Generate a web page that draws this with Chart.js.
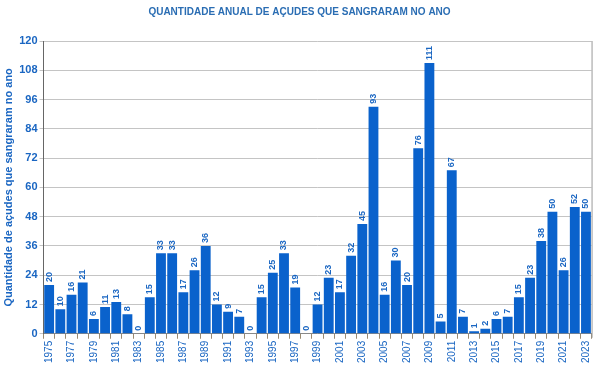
<!DOCTYPE html>
<html>
<head>
<meta charset="utf-8">
<script src="https://cdn.jsdelivr.net/npm/chart.js@4"></script>
<style>
  html, body { margin: 0; padding: 0; background: #fff; }
  canvas { display: block; }
</style>
</head>
<body>
<canvas id="chart" width="600" height="367"></canvas>
<script>
// anos da série
const years = [
  '1975', '1976', '1977', '1978', '1979', '1980', '1981', '1982', '1983', '1984',
  '1985', '1986', '1987', '1988', '1989', '1990', '1991', '1992', '1993', '1994',
  '1995', '1996', '1997', '1998', '1999', '2000', '2001', '2002', '2003', '2004',
  '2005', '2006', '2007', '2008', '2009', '2010', '2011', '2012', '2013', '2014',
  '2015', '2016', '2017', '2018', '2019', '2020', '2021', '2022', '2023',
];

// quantidade de açudes que sangraram
const counts = [
  20, 10, 16, 21, 6, 11, 13, 8, 0, 15,
  33, 33, 17, 26, 36, 12, 9, 7, 0, 15,
  25, 33, 19, 0, 12, 23, 17, 32, 45, 93,
  16, 30, 20, 76, 111, 5, 67, 7, 1, 2,
  6, 7, 15, 23, 38, 50, 26, 52, 50,
];

const barColor = '#0a62cc';
const textColor = '#1a66c2';

// rótulos verticais acima das barras
const valueLabels = {
  id: 'valueLabels',
  afterDatasetsDraw(chart) {
    const ctx = chart.ctx;
    const meta = chart.getDatasetMeta(0);
    ctx.save();
    ctx.fillStyle = textColor;
    ctx.font = 'bold 9px "Liberation Sans", Arial, sans-serif';
    ctx.textAlign = 'left';
    ctx.textBaseline = 'middle';
    meta.data.forEach((bar, i) => {
      ctx.save();
      ctx.translate(bar.x, bar.y - 3);
      ctx.rotate(-Math.PI / 2);
      ctx.fillText(String(counts[i]), 0, 0);
      ctx.restore();
    });
    ctx.restore();
  },
};

// linha da borda direita
const rightBorder = {
  id: 'rightBorder',
  afterDraw(chart) {
    const { ctx, chartArea } = chart;
    ctx.save();
    ctx.strokeStyle = '#9a9a9a';
    ctx.lineWidth = 1;
    ctx.beginPath();
    ctx.moveTo(chartArea.right + 0.5, chartArea.top);
    ctx.lineTo(chartArea.right + 0.5, chartArea.bottom + 4);
    ctx.stroke();
    ctx.restore();
  },
};

new Chart(document.getElementById('chart'), {
  type: 'bar',
  data: {
    labels: years,
    datasets: [
      {
        data: counts,
        backgroundColor: barColor,
        borderWidth: 0,
        barPercentage: 0.88,
        categoryPercentage: 1.0,
      },
    ],
  },
  options: {
    responsive: false,
    animation: false,
    layout: { padding: { top: 0, right: 3, bottom: 2, left: 2 } },
    plugins: {
      legend: { display: false },
      tooltip: { enabled: false },
      title: {
        display: true,
        text: 'QUANTIDADE ANUAL DE AÇUDES QUE SANGRARAM NO ANO',
        color: '#2a6db3',
        font: { family: '"Liberation Sans", Arial, sans-serif', size: 10, weight: 'bold' },
        padding: { top: 6, bottom: 23 },
      },
    },
    scales: {
      x: {
        grid: {
          offset: true,
          drawOnChartArea: false,
          color: '#9a8a70',
          tickLength: 5,
        },
        border: { color: '#888' },
        ticks: {
          autoSkip: false,
          maxRotation: 90,
          minRotation: 90,
          padding: 2,
          color: textColor,
          font: { family: '"Liberation Sans", Arial, sans-serif', size: 10 },
          callback: function (value, index) {
            return index % 2 === 0 ? years[index] : '';
          },
        },
      },
      y: {
        min: 0,
        max: 120,
        grid: {
          color: '#c4c4c4',
          tickLength: 4,
        },
        border: { color: '#666' },
        ticks: {
          stepSize: 12,
          padding: 2,
          color: textColor,
          font: { family: '"Liberation Sans", Arial, sans-serif', size: 11, weight: 'bold' },
        },
        title: {
          display: true,
          text: 'Quantidade de açudes que sangraram no ano',
          color: textColor,
          font: { family: '"Liberation Sans", Arial, sans-serif', size: 11, weight: 'bold' },
          padding: { top: 0, bottom: 2 },
        },
      },
    },
  },
  plugins: [valueLabels, rightBorder],
});
</script>
</body>
</html>
